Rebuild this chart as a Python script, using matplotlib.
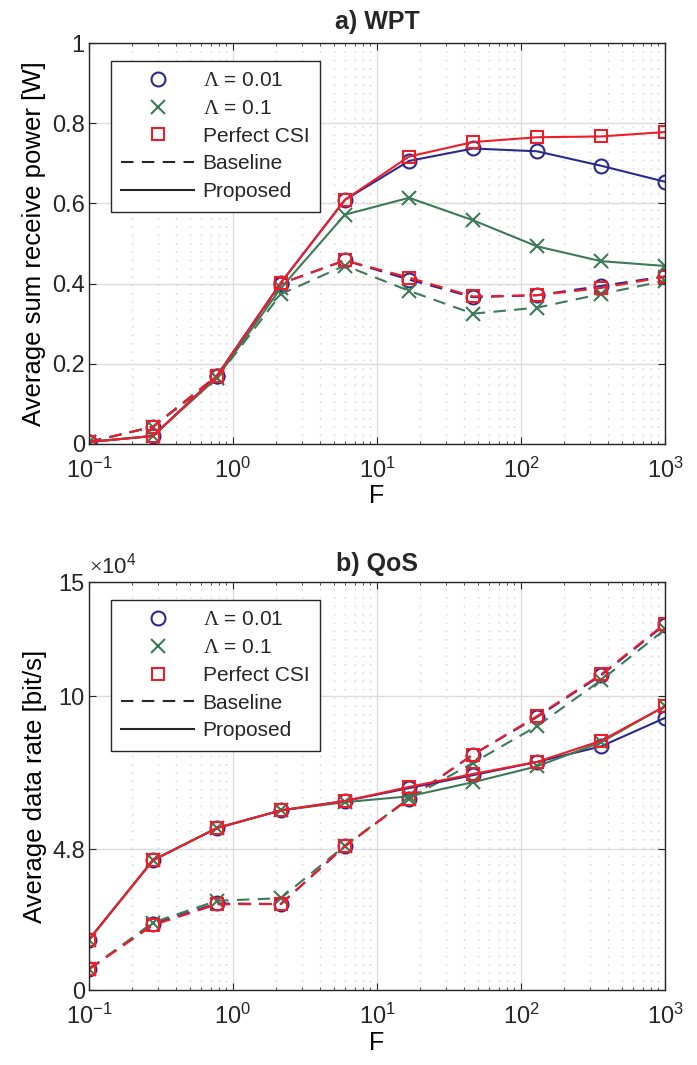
import numpy as np
import matplotlib.pyplot as plt
import matplotlib as mpl
from matplotlib.lines import Line2D
from matplotlib.ticker import LogLocator, NullFormatter

# -----------------------------
# Data
# -----------------------------
F = [0.1, 0.278, 0.774, 2.15, 5.99, 16.7, 46.4, 129, 359, 1000]

# a) WPT, average sum receive power [W]
wpt_prop_001 = [0.005, 0.020, 0.170, 0.402, 0.609, 0.706, 0.737, 0.730, 0.694, 0.654]
wpt_prop_01 = [0.005, 0.020, 0.165, 0.389, 0.572, 0.614, 0.558, 0.493, 0.456, 0.444]
wpt_prop_csi = [0.005, 0.020, 0.170, 0.402, 0.609, 0.717, 0.753, 0.765, 0.767, 0.778]
wpt_base_001 = [0.005, 0.043, 0.170, 0.400, 0.458, 0.410, 0.366, 0.371, 0.394, 0.418]
wpt_base_01 = [0.005, 0.043, 0.165, 0.374, 0.445, 0.382, 0.325, 0.340, 0.374, 0.407]
wpt_base_csi = [0.005, 0.043, 0.170, 0.400, 0.458, 0.415, 0.368, 0.371, 0.389, 0.417]

# b) QoS, average data rate [x 1e4 bit/s]
qos_prop_001 = [1.72, 4.42, 5.52, 6.12, 6.44, 6.88, 7.32, 7.77, 8.30, 9.27]
qos_prop_01 = [1.72, 4.42, 5.52, 6.12, 6.40, 6.60, 7.08, 7.62, 8.44, 9.67]
qos_prop_csi = [1.72, 4.42, 5.52, 6.12, 6.44, 6.92, 7.36, 7.77, 8.49, 9.67]
qos_base_001 = [0.71, 2.25, 2.95, 2.93, 4.90, 6.52, 8.02, 9.30, 10.72, 12.45]
qos_base_01 = [0.71, 2.30, 3.04, 3.13, 4.92, 6.52, 7.74, 8.99, 10.55, 12.29]
qos_base_csi = [0.71, 2.21, 2.92, 2.93, 4.90, 6.52, 8.02, 9.33, 10.75, 12.48]

qos_yticks = [0, 4.8, 10, 13.9]
qos_yticklabels = ['0', '4.8', '10', '15']

# -----------------------------
# Style (MATLAB-like)
# -----------------------------
mpl.rcParams.update({
    'font.family': ['Liberation Sans', 'DejaVu Sans'],
    'font.size': 17,
    'axes.unicode_minus': False,
    'mathtext.fontset': 'custom',
    'mathtext.rm': 'Liberation Serif',
    'mathtext.it': 'Liberation Serif:italic',
    'axes.linewidth': 1.0,
    'axes.edgecolor': '#262626',
    'text.color': '#262626',
    'xtick.color': '#262626',
    'ytick.color': '#262626',
    'xtick.direction': 'in',
    'ytick.direction': 'in',
    'xtick.top': True,
    'ytick.right': True,
    'xtick.major.size': 5,
    'ytick.major.size': 5,
    'xtick.minor.size': 2.5,
    'xtick.major.pad': 10,
    'ytick.major.pad': 3,
})

BLUE = '#2a2a8e'
GREEN = '#3e7a58'
RED = '#ee1d2a'
DASH = (0, (6, 4))

fig = plt.figure(figsize=(6.97, 10.65), dpi=100)
ax1 = fig.add_axes([0.1277, 0.5831, 0.8264, 0.3765])
ax2 = fig.add_axes([0.1277, 0.0704, 0.8264, 0.3831])


def draw(ax, base, prop, scale=1.0):
    styles = [(BLUE, 'o', 10), (GREEN, 'x', 10), (RED, 's', 9)]
    for (c, m, ms), y in zip(styles, base):
        ax.plot(F, np.array(y) * scale, color=c, ls=DASH, lw=1.5, marker=m,
                ms=ms, mfc='none', mew=1.5, dash_capstyle='butt')
    for (c, m, ms), y in zip(styles, prop):
        ax.plot(F, np.array(y) * scale, color=c, ls='-', lw=1.5, marker=m,
                ms=ms, mfc='none', mew=1.5)


def style_axes(ax):
    ax.set_xscale('log')
    ax.set_xlim(0.1, 1000)
    ax.xaxis.set_minor_locator(LogLocator(base=10, subs=np.arange(2, 10), numticks=20))
    ax.xaxis.set_minor_formatter(NullFormatter())
    ax.grid(True, which='major', color='#dcdcdc', lw=1.0, ls='-')
    ax.grid(True, which='minor', axis='x', color='#cfcfcf', lw=1.0, ls=(0, (1, 5)))
    ax.set_axisbelow(True)
    ax.set_xlabel('F', fontsize=18, labelpad=1)
    handles = [
        Line2D([], [], color=BLUE, marker='o', ls='none', ms=10, mfc='none', mew=1.5),
        Line2D([], [], color=GREEN, marker='x', ls='none', ms=10, mew=1.5),
        Line2D([], [], color=RED, marker='s', ls='none', ms=9, mfc='none', mew=1.5),
        Line2D([], [], color='#262626', ls=DASH, lw=1.5),
        Line2D([], [], color='#262626', ls='-', lw=1.5),
    ]
    labels = [r'$\mathrm{\Lambda}$ = 0.01', r'$\mathrm{\Lambda}$ = 0.1',
              'Perfect CSI', 'Baseline', 'Proposed']
    leg = ax.legend(handles, labels, loc='upper left', bbox_to_anchor=(0.038, 0.956),
                    borderaxespad=0, fontsize=15, handlelength=3.5, handletextpad=0.4,
                    labelspacing=0.42, fancybox=False, framealpha=1,
                    edgecolor='#262626', borderpad=0.5)
    leg.get_frame().set_linewidth(1.0)


# a) WPT
draw(ax1, [wpt_base_001, wpt_base_01, wpt_base_csi],
     [wpt_prop_001, wpt_prop_01, wpt_prop_csi])
style_axes(ax1)
ax1.set_ylim(0, 1)
ax1.set_yticks([0, 0.2, 0.4, 0.6, 0.8, 1])
ax1.set_yticklabels(['0', '0.2', '0.4', '0.6', '0.8', '1'])
ax1.set_ylabel('Average sum receive power [W]', fontsize=18.5, labelpad=4)
ax1.set_title('a) WPT', fontweight='bold', fontsize=18, pad=10)

# b) QoS
draw(ax2, [qos_base_001, qos_base_01, qos_base_csi],
     [qos_prop_001, qos_prop_01, qos_prop_csi], scale=1e4)
style_axes(ax2)
ax2.set_ylim(0, qos_yticks[-1] * 1e4)
ax2.set_yticks(np.array(qos_yticks) * 1e4)
ax2.set_yticklabels(qos_yticklabels)
ax2.set_ylabel('Average data rate [bit/s]', fontsize=18.5, labelpad=4)
ax2.set_title('b) QoS', fontweight='bold', fontsize=18, pad=8)
ax2.text(0.0, 1.008, r'$\times\mathdefault{10^{4}}$', transform=ax2.transAxes,
         ha='left', va='bottom', fontsize=16)

plt.savefig('out.png', dpi=100)
